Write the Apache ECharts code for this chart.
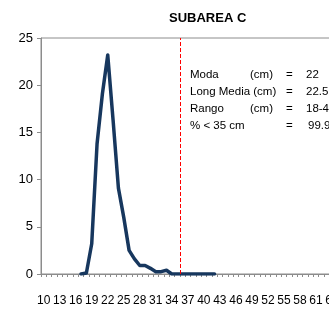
<!DOCTYPE html>
<html lang="es">
<head>
    <meta charset="utf-8">
    <title>SUBAREA C</title>
    <script src="https://cdn.jsdelivr.net/npm/echarts@6/dist/echarts.min.js"></script>
    <style>
        html, body { margin: 0; padding: 0; background: #fff; }
        #tx1 { width: 329px; height: 313px; }
    </style>
</head>
<body>
<div id="tx1"></div>
<script type="text/javascript">
    // tallas (cm)
    var tallas = [];
    for (var t = 10; t <= 65; t++) tallas.push(String(t));

    // frecuencia (%) por talla, desde 17 cm hasta 42 cm
    var frecTallas = [17, 18, 19, 20, 21, 22, 23, 24, 25, 26, 27, 28, 29, 30, 31, 32, 33, 34, 35, 36, 37, 38, 39, 40, 41, 42];
    var frecValores = [0, 0.1, 3.2, 13.8, 19.1, 23.2, 16.3, 9.1, 6.0, 2.5, 1.6, 0.9, 0.9, 0.6, 0.25, 0.25, 0.4, 0, 0, 0, 0, 0, 0, 0, 0, 0];

    var tallaMinima = 35.5;   // línea roja de referencia (< 35 cm)

    var statEtiquetas = ['Moda', 'Long Media', 'Rango', '% < 35 cm'];
    var statUnidades = ['(cm)', '(cm)', '(cm)', ''];
    var statValores = ['22', '22.5', '18-43', '99.9'];

    var serie = tallas.map(function (c) {
        var i = frecTallas.indexOf(Number(c));
        return i >= 0 ? frecValores[i] : null;
    });

    var textos = [];
    var font = '11.5px "Liberation Sans", Arial, sans-serif';
    statEtiquetas.forEach(function (lab, i) {
        var y = 75 + i * 16.8;
        var nombre = lab;
        if (lab === 'Long Media') nombre = 'Long Media (cm)';
        textos.push({ type: 'text', left: 190, top: y - 6, style: { text: nombre, font: font, fill: '#000' } });
        if (statUnidades[i] && lab !== 'Long Media') {
            textos.push({ type: 'text', left: 250, top: y - 6, style: { text: statUnidades[i], font: font, fill: '#000' } });
        }
        textos.push({ type: 'text', left: 286, top: y - 6, style: { text: '=', font: font, fill: '#000' } });
        textos.push({ type: 'text', left: i === 3 ? 308 : 306, top: y - 6, style: { text: statValores[i], font: font, fill: '#000' } });
    });

    var myChart = echarts.init(document.getElementById('tx1'));
    var option = {
        animation: false,
        title: {
            text: 'SUBAREA C',
            left: 164,
            top: 7,
            textStyle: {
                fontFamily: '"Liberation Sans", Arial, sans-serif',
                fontSize: 13,
                fontWeight: 'bold',
                color: '#000'
            }
        },
        grid: {
            left: 41,
            right: -11,
            top: 38,
            bottom: 39,
            outerBoundsMode: 'none',
            containLabel: false,
            show: true,
            borderColor: '#8c8c8c',
            borderWidth: 1
        },
        xAxis: [{
            type: 'category',
            data: tallas,
            boundaryGap: true,
            axisLine: { lineStyle: { color: '#8c8c8c' } },
            axisTick: { show: true, interval: 0, length: 3, lineStyle: { color: '#8c8c8c' } },
            axisLabel: {
                interval: 2,
                margin: 21,
                hideOverlap: false,
                showMinLabel: true,
                color: '#000',
                fontSize: 12,
                fontFamily: '"Liberation Sans", Arial, sans-serif'
            },
            splitLine: { show: false }
        }, {
            type: 'value',
            min: 9.5,
            max: 65.5,
            show: false
        }],
        yAxis: {
            type: 'value',
            min: 0,
            max: 25,
            interval: 5,
            axisLine: { show: true, lineStyle: { color: '#8c8c8c' } },
            axisTick: { show: true, length: 4, lineStyle: { color: '#8c8c8c' } },
            axisLabel: {
                margin: 8,
                color: '#000',
                fontSize: 13,
                fontFamily: '"Liberation Sans", Arial, sans-serif'
            },
            splitLine: { show: false }
        },
        series: [{
            type: 'line',
            data: serie,
            showSymbol: false,
            symbol: 'none',
            connectNulls: false,
            lineStyle: { color: '#17375e', width: 3.5, cap: 'round', join: 'round' }
        }, {
            type: 'line',
            xAxisIndex: 1,
            data: [],
            silent: true,
            color: '#ff0000',
            markLine: {
                symbol: 'none',
                silent: true,
                label: { show: false },
                itemStyle: { color: '#ff0000' },
                lineStyle: { color: '#ff0000', width: 1, type: 'dashed', opacity: 1 },
                data: [{ xAxis: tallaMinima }]
            }
        }],
        graphic: textos
    };
    myChart.setOption(option);
</script>
</body>
</html>
